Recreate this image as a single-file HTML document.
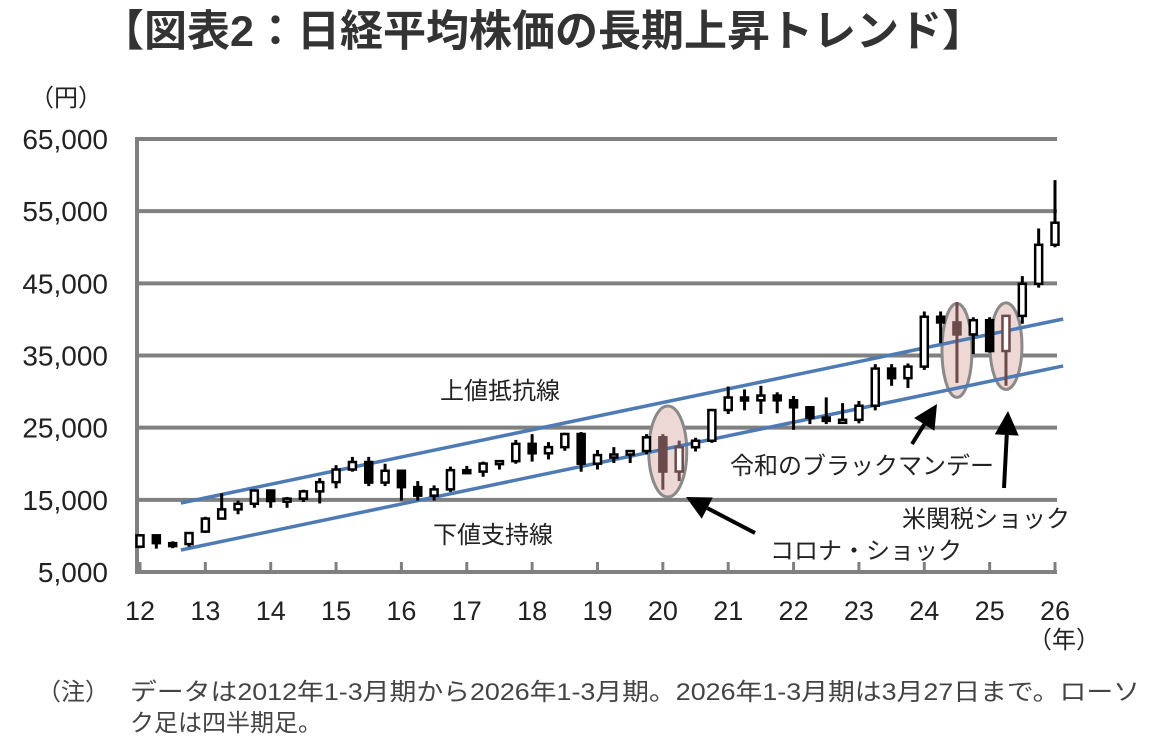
<!DOCTYPE html>
<html><head><meta charset="utf-8">
<style>
body{margin:0;background:#fff;width:1151px;height:753px;overflow:hidden;font-family:"Liberation Sans","Noto Sans CJK JP",sans-serif;}
svg{position:absolute;left:0;top:0}
text{font-family:"Liberation Sans","Noto Sans CJK JP",sans-serif;}
</style></head>
<body>
<svg id="c" width="1151" height="753">
<text x="543" y="46" text-anchor="middle" font-size="43" font-weight="bold" fill="#333">【図表2：日経平均株価の長期上昇トレンド】</text>
<text x="30" y="106" font-size="24" fill="#222">（円）</text>
<text x="1028" y="648" font-size="24" fill="#222">（年）</text>
<text x="37" y="700" font-size="24" fill="#444">（注）</text>
<text x="130" y="700" font-size="24" textLength="1010" lengthAdjust="spacingAndGlyphs" fill="#444">データは2012年1-3月期から2026年1-3月期。2026年1-3月期は3月27日まで。ローソ</text>
<text x="130" y="731" font-size="24" fill="#444">ク足は四半期足。</text>
<g id="grid"></g><g id="ell"></g><g id="marks"></g><g id="anno"></g>
</svg>
<script>
const yTicks=[5000,15000,25000,35000,45000,55000,65000];
const xYears=[12,13,14,15,16,17,18,19,20,21,22,23,24,25,26];
const opens=[8500,10080,9000,8870,10600,12400,13680,14450,16290,14830,15160,16170,17450,19200,20240,17390,19030,16760,15580,16450,19110,18910,20030,20360,22760,21450,22300,24120,20010,21200,21280,21760,23660,18920,22290,23190,27440,29180,28790,29450,28790,27820,26390,25940,26090,28040,33190,31860,33460,40370,39580,37920,39890,35620,40490,44930,50340];
const highs=[10250,10200,9250,10400,12650,15900,14900,16300,16300,15400,16400,18000,19800,20950,20950,20000,19000,17600,17000,19600,19700,20300,20500,23300,24100,23000,24300,24400,21900,22300,21800,24100,24100,23200,23600,27600,30700,30300,30800,29900,29400,28000,29200,28400,28700,33800,33800,33900,41100,41100,42400,40300,40300,40500,46000,52600,59300];
const lows=[8300,8240,8300,8500,10400,12400,13000,13900,13900,13900,14700,14500,16600,18900,16900,16900,14900,14900,14900,16100,18650,18200,19200,20000,20300,20600,21800,18900,19200,20100,20100,21300,16400,17600,21700,22900,26900,27400,26900,27000,24700,25500,25500,25700,25600,27400,30800,30500,33000,36700,31200,35200,35400,30800,39400,44400,50000];
const closes=[10080,9000,8870,10400,12400,13680,14450,16290,14830,15160,16170,17450,19200,20240,17390,19030,16760,15580,16450,19110,18910,20030,20360,22760,21450,22300,24120,20010,21200,21280,21760,23660,18920,22290,23190,27440,29180,28790,29450,28790,27820,26390,25940,26090,28040,33190,31860,33460,40370,39580,37920,39890,35620,40490,44930,50340,53400];
const upperLine=[[2.5,14560],[56.5,40060]];
const lowerLine=[[2.5,8050],[56.5,33550]];
const highlightQ=[[32.3,21700,6300],[50.0,35700,6500],[53.0,36300,6000]];
const NS='http://www.w3.org/2000/svg';
const X=i=>140+i*(915/56);
const Y=v=>572-(v-5000)/60000*433;
function mk(p,t,a){const e=document.createElementNS(NS,t);for(const k in a)e.setAttribute(k,a[k]);p.appendChild(e);return e;}
const g=document.getElementById('grid'),m=document.getElementById('marks'),an=document.getElementById('anno'),el=document.getElementById('ell');
yTicks.forEach(v=>{
 if(v>5000){const l=mk(g,'line',{x1:137,x2:1057,y1:Y(v),y2:Y(v),stroke:'#808080','stroke-width':4});
 }
 const t=mk(g,'text',{x:108,y:Y(v)+10,'text-anchor':'end','font-size':28,fill:'#222'});t.textContent=v.toLocaleString('en-US');
 
});
let ax=mk(g,'line',{x1:137,x2:1057,y1:572,y2:572,stroke:'#808080','stroke-width':4});

ax=mk(g,'line',{x1:137,x2:137,y1:137,y2:574,stroke:'#808080','stroke-width':4});

xYears.forEach(y=>{const x=X((y-12)*4);
 const tk=mk(g,'line',{x1:x,x2:x,y1:562,y2:572,stroke:'#808080','stroke-width':3});
 
 const t=mk(g,'text',{x:x,y:620,'text-anchor':'middle','font-size':27,fill:'#222'});t.textContent=y;
 });
const rxs=[19,15,16];
highlightQ.forEach((h,k)=>{const top=Y(h[1]+h[2]),bot=Y(h[1]-h[2]);
 const e=mk(el,'ellipse',{cx:X(h[0]),cy:(top+bot)/2,rx:rxs[k],ry:(bot-top)/2,fill:'#eed8d6',stroke:'#8a8a8a','stroke-width':3});
 });
[upperLine,lowerLine].forEach((L,k)=>{const l=mk(el,'line',{x1:X(L[0][0]),y1:Y(L[0][1]),x2:X(L[1][0]),y2:Y(L[1][1]),stroke:'#4f7bb5','stroke-width':3.5});
 });
opens.forEach((o,i)=>{const c=closes[i],x=X(i);
 const gg=mk(m,'g',{});
 const hl=[32,33,50,53].includes(i);const col=hl?'#6a4a4a':'#000';
 mk(gg,'line',{x1:x,x2:x,y1:Y(highs[i]),y2:Y(lows[i]),stroke:col,'stroke-width':3});
 const t=Y(Math.max(o,c)),b=Y(Math.min(o,c));
 mk(gg,'rect',{x:x-3.5,y:t,width:7,height:Math.max(b-t,3),fill:c>=o?'#fff':col,stroke:col,'stroke-width':2.5});
});
function arrow(x1,y1,x2,y2,name){const gg=mk(an,'g',{});
 const a=Math.atan2(y2-y1,x2-x1),L=24,W=12;
 const bx=x2-L*Math.cos(a),by=y2-L*Math.sin(a);
 mk(gg,'line',{x1:x1,y1:y1,x2:bx,y2:by,stroke:'#000','stroke-width':4});
 mk(gg,'polygon',{points:`${x2},${y2} ${bx-W*Math.sin(a)},${by+W*Math.cos(a)} ${bx+W*Math.sin(a)},${by-W*Math.cos(a)}`,fill:'#000'});}
arrow(755,533,686,497,'corona-arrow');
arrow(912,444,937,404,'reiwa-arrow');
arrow(1004,488,1008,411,'tariff-arrow');
function lab(x,y,s,n){const t=mk(an,'text',{x:x,y:y,'font-size':24,fill:'#222'});t.textContent=s;}
lab(440,399,'上値抵抗線','resistance-label');
lab(433,543,'下値支持線','support-label');
lab(770,559,'コロナ・ショック','corona-label');
lab(730,474,'令和のブラックマンデー','reiwa-label');
lab(902,527,'米関税ショック','tariff-label');
</script>
</body></html>
